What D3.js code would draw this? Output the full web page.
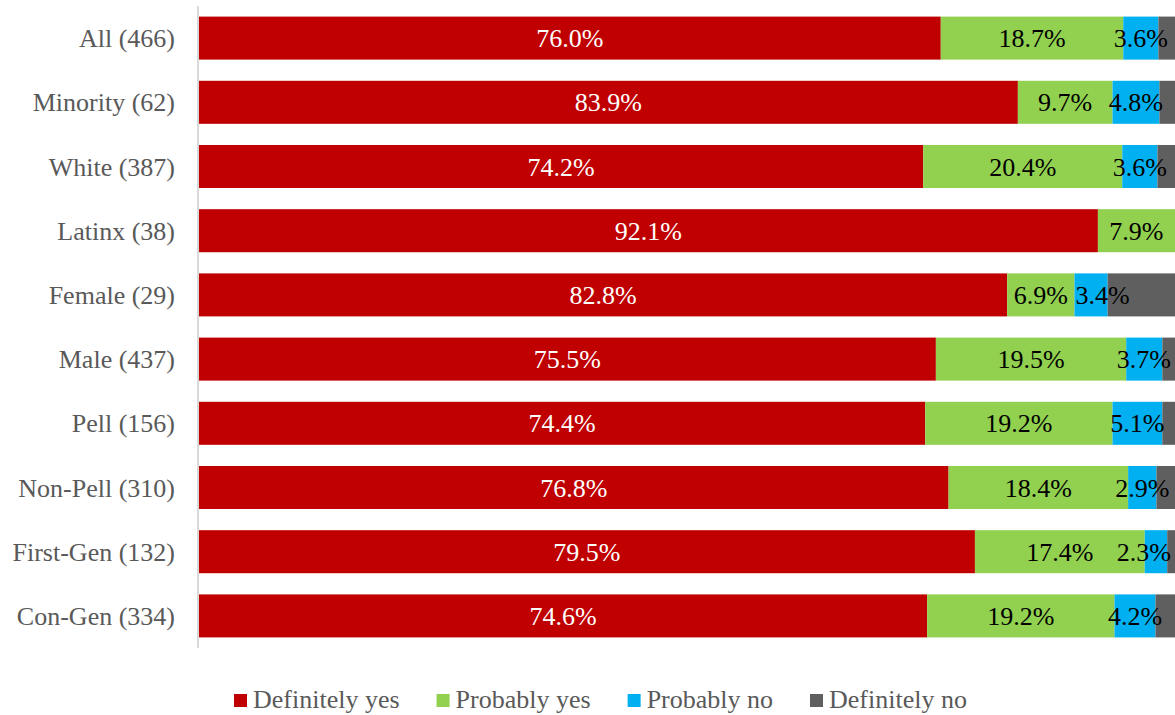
<!DOCTYPE html>
<html>
<head>
<meta charset="utf-8">
<script src="https://cdn.jsdelivr.net/npm/d3@7"></script>
<style>
  html, body { margin: 0; padding: 0; background: #fff; }
  svg { display: block; }
  text { font-family: "Liberation Serif", "Times New Roman", serif; }
</style>
</head>
<body>
<svg id="chart" width="1175" height="715"></svg>
<script>
// Groups (with respondent counts) and answer shares in percent
const categories = ["All (466)", "Minority (62)", "White (387)", "Latinx (38)", "Female (29)",
  "Male (437)", "Pell (156)", "Non-Pell (310)", "First-Gen (132)", "Con-Gen (334)"];
const definitelyYes = [76.0, 83.9, 74.2, 92.1, 82.8, 75.5, 74.4, 76.8, 79.5, 74.6];
const probablyYes   = [18.7,  9.7, 20.4,  7.9,  6.9, 19.5, 19.2, 18.4, 17.4, 19.2];
const probablyNo    = [ 3.6,  4.8,  3.6,  0.0,  3.4,  3.7,  5.1,  2.9,  2.3,  4.2];
const definitelyNo  = [ 1.7,  1.6,  1.8,  0.0,  6.9,  1.3,  1.3,  1.9,  0.8,  2.0];
const seriesNames = ["Definitely yes", "Probably yes", "Probably no", "Definitely no"];
const seriesColors = ["#C00000", "#92D050", "#00B0F0", "#5F5F5F"];
const labelColors = ["#ffffff", "#000000", "#000000", null]; // no labels on the last series

const rows = categories.map((c, i) => ({
  cat: c,
  "Definitely yes": definitelyYes[i],
  "Probably yes": probablyYes[i],
  "Probably no": probablyNo[i],
  "Definitely no": definitelyNo[i]
}));

const FONT = 26;
const svg = d3.select("#chart");
const plotLeft = 199, plotRight = 1175, plotTop = 6, plotBottom = 648;

const x = d3.scaleLinear().domain([0, 100]).range([plotLeft, plotRight]);
const y = d3.scaleBand().domain(categories).range([plotTop, plotBottom]).paddingInner(0.33).paddingOuter(0.165);

const stack = d3.stack().keys(seriesNames);
const layers = stack(rows);

// Stacked segments
const g = svg.append("g");
layers.forEach((layer, si) => {
  g.selectAll(null)
    .data(layer)
    .join("rect")
    .attr("x", d => x(d[0]))
    .attr("y", d => y(d.data.cat))
    .attr("width", d => Math.max(0, x(d[1]) - x(d[0])))
    .attr("height", y.bandwidth())
    .attr("fill", seriesColors[si]);
});

// Category axis line
svg.append("line")
  .attr("x1", plotLeft - 1).attr("x2", plotLeft - 1)
  .attr("y1", plotTop).attr("y2", plotBottom)
  .attr("stroke", "#D9D9D9").attr("stroke-width", 2);

// Category labels
const yAxis = d3.axisLeft(y).tickSize(0).tickPadding(24);
const ax = svg.append("g").attr("transform", `translate(${plotLeft},0)`).call(yAxis);
ax.select(".domain").remove();
ax.selectAll("text")
  .attr("font-family", "Liberation Serif, serif")
  .attr("font-size", FONT)
  .attr("fill", "#595959")
  .attr("dy", "0.35em");

// Value labels: centred in their segment, pushed right when the next segment is wider,
// and kept inside the right edge of the chart
layers.forEach((layer, si) => {
  if (!labelColors[si]) return;
  g.selectAll(null)
    .data(layer.filter(d => d[1] - d[0] > 0))
    .join("text")
    .attr("y", d => y(d.data.cat) + y.bandwidth() / 2)
    .attr("dy", "0.35em")
    .attr("text-anchor", "middle")
    .attr("font-size", FONT)
    .attr("fill", labelColors[si])
    .text(d => (d[1] - d[0]).toFixed(1) + "%")
    .attr("x", function(d) {
      const mid = (x(d[0]) + x(d[1])) / 2;
      const next = si + 1 < layers.length ? layers[si + 1][layer.indexOf(d)] : null;
      const nextW = next ? next[1] - next[0] : 0;
      const w = d[1] - d[0];
      let cx = (si === 2 && nextW > w) ? x(d[0]) + 28 : mid;
      const half = this.getComputedTextLength() / 2;
      return Math.min(cx, plotRight - half - 4);
    });
});

// Legend, laid out left to right from measured text widths
const legend = svg.append("g");
let lx = 234;
seriesNames.forEach((name, i) => {
  legend.append("rect")
    .attr("x", lx).attr("y", 694)
    .attr("width", 13).attr("height", 13)
    .attr("fill", seriesColors[i]);
  const t = legend.append("text")
    .attr("x", lx + 19).attr("y", 708)
    .attr("font-size", FONT)
    .attr("fill", "#595959")
    .text(name);
  lx += 19 + t.node().getComputedTextLength() + 37;
});
</script>
</body>
</html>
